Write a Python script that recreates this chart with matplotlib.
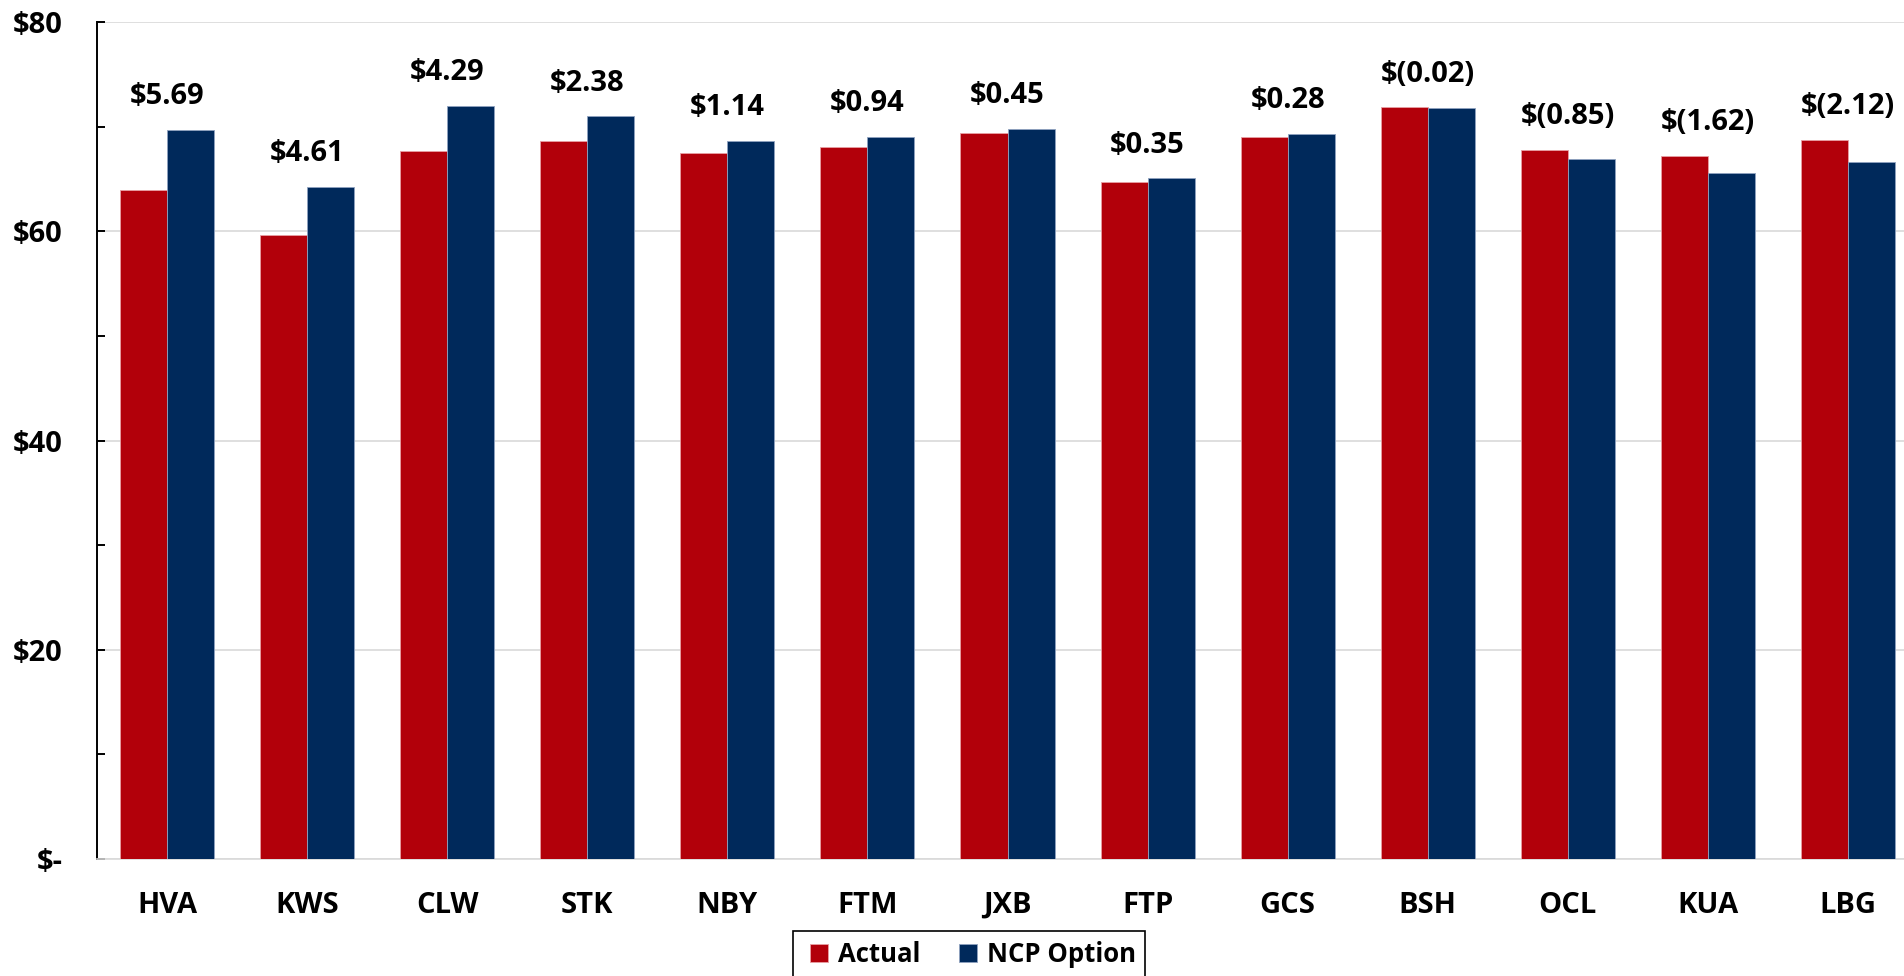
import numpy as np
import matplotlib
matplotlib.use("Agg")
import matplotlib.pyplot as plt
from matplotlib.patches import Rectangle
from matplotlib.ticker import MultipleLocator, FixedLocator

plt.rcParams['font.family'] = ['Open Sans', 'DejaVu Sans']
plt.rcParams['font.weight'] = 'bold'

sites = ['HVA', 'KWS', 'CLW', 'STK', 'NBY', 'FTM', 'JXB', 'FTP', 'GCS', 'BSH', 'OCL', 'KUA', 'LBG']
actual = [63.96, 59.60, 67.70, 68.60, 67.50, 68.10, 69.35, 64.70, 69.05, 71.84, 67.80, 67.20, 68.70]
diff = [5.69, 4.61, 4.29, 2.38, 1.14, 0.94, 0.45, 0.35, 0.28, -0.02, -0.85, -1.62, -2.12]
ncp = [a + d for a, d in zip(actual, diff)]

red = '#B2000A'
navy = '#00295B'

W, H = 1904, 976
fig = plt.figure(figsize=(W / 100, H / 100), dpi=100)
# plot area: left 97px, top 22px, bottom 859px, right ~1918px (runs off the edge)
ax = fig.add_axes([97 / W, 1 - 859 / H, (1918 - 97) / W, (859 - 22) / H])

x = np.arange(len(sites))
bw = 0.336
ax.bar(x - bw / 2, actual, bw, color=red, edgecolor='#e8a0a4', linewidth=0.6, label='Actual', zorder=3)
ax.bar(x + bw / 2, ncp, bw, color=navy, edgecolor='#8fa2c0', linewidth=0.6, label='NCP Option', zorder=3)


def fmt(v):
    if v < 0:
        return '$(%.2f)' % abs(v)
    return '$%.2f' % v


fs = 21
for i, d in enumerate(diff):
    top = max(actual[i], ncp[i])
    ax.annotate(fmt(d), (x[i], top), xytext=(0, 24), textcoords='offset points',
                ha='center', va='center', fontsize=fs, fontweight='bold')

ax.set_xlim(-0.5, len(sites) - 0.5)
ax.set_ylim(0, 80)
ax.set_xticks(x)
ax.set_xticklabels(sites, fontsize=fs, fontweight='bold')
ax.tick_params(axis='x', length=0, pad=23)

ax.yaxis.set_major_locator(FixedLocator([0, 20, 40, 60, 80]))
ax.yaxis.set_minor_locator(MultipleLocator(10))
ax.set_yticklabels(['$-', '$20', '$40', '$60', '$80'], fontsize=fs, fontweight='bold')
ax.tick_params(axis='y', which='both', direction='in', length=6, width=1.4, color='black', pad=25)
ax.grid(axis='y', which='major', color='#d9d9d9', linewidth=1.2, zorder=0)

for s in ['top', 'right']:
    ax.spines[s].set_visible(False)
ax.spines['left'].set_color('black')
ax.spines['left'].set_linewidth(1.4)
ax.spines['bottom'].set_color('#d9d9d9')
ax.spines['bottom'].set_linewidth(1.2)

# legend: entries centred in a box that runs off the bottom edge
leg = fig.legend(loc='center', bbox_to_anchor=(973 / W, 1 - 954 / H), ncol=2,
                 fontsize=18.5, frameon=False,
                 handlelength=0.7, handleheight=0.7, handletextpad=0.4, columnspacing=1.5,
                 borderpad=0, borderaxespad=0)
fig.add_artist(Rectangle((793 / W, -0.01), (1145 - 793) / W, 1 - 931 / H + 0.01,
                         transform=fig.transFigure, fill=False, edgecolor='black', linewidth=1.2))

fig.savefig('out.png', dpi=100)
